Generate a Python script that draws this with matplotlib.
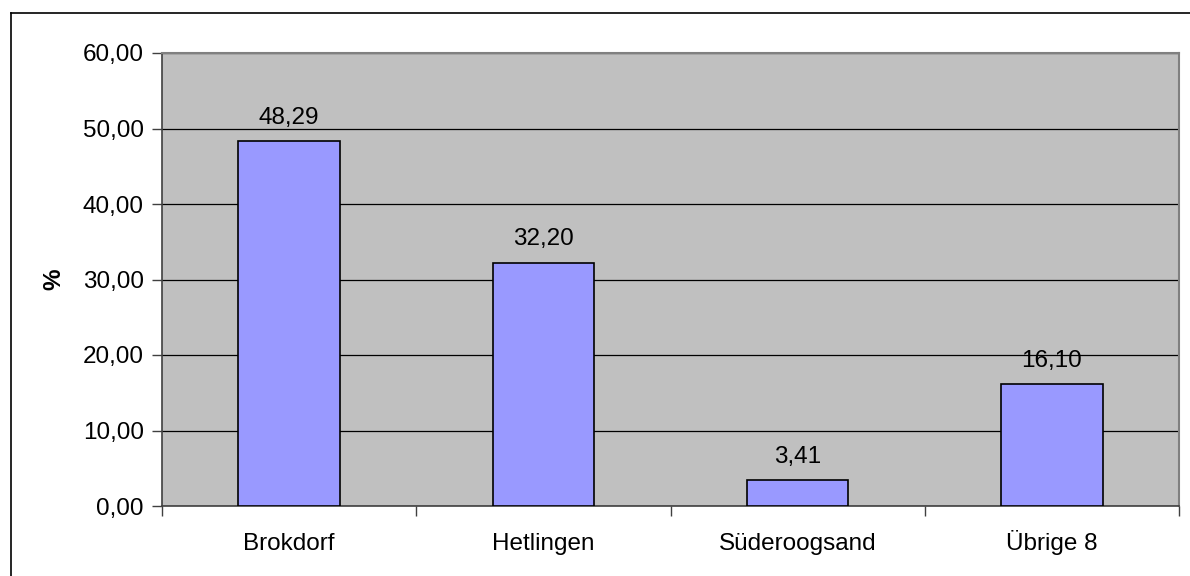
import numpy as np
import matplotlib
matplotlib.use('Agg')
import matplotlib.pyplot as plt
from matplotlib.lines import Line2D

categories = ['Brokdorf', 'Hetlingen', 'Süderoogsand', 'Übrige 8']
values = [48.29, 32.20, 3.41, 16.10]
yticks = [0, 10, 20, 30, 40, 50, 60]

plt.rcParams['font.family'] = ['Liberation Sans', 'DejaVu Sans']
fs = 17.5

W, H = 1190, 576
fig = plt.figure(figsize=(W / 100, H / 100), dpi=100)

# outer chart border: only left and top edges are in the picture
bx, by = 10.5 / W, 1 - 12.5 / H
fig.lines.append(Line2D([bx, bx], [-0.1, by], transform=fig.transFigure, color='black', linewidth=1.2))
fig.lines.append(Line2D([bx, 1.1], [by, by], transform=fig.transFigure, color='black', linewidth=1.2))

ax = fig.add_axes([162 / W, 1 - 506 / H, (1179 - 162) / W, (506 - 53) / H])
ax.set_facecolor('#C0C0C0')

x = np.arange(len(categories))
ax.bar(x, values, width=0.4, color='#9999FF', edgecolor='black', linewidth=1.2, zorder=3)

for xi, v in zip(x, values):
    ax.annotate(('%.2f' % v).replace('.', ','), (xi, v), xytext=(0, 9),
                textcoords='offset points', ha='center', va='bottom', fontsize=fs)

ax.set_xlim(-0.5, len(categories) - 0.5)
ax.set_ylim(0, 60)
ax.set_yticks(yticks)
ax.set_yticklabels([('%.2f' % t).replace('.', ',') for t in yticks], fontsize=fs)
ax.yaxis.grid(True, color='black', linewidth=0.9, zorder=1)
ax.set_axisbelow(True)

ax.set_xticks(x)
ax.set_xticklabels(categories, fontsize=fs)
for lbl in ax.get_xticklabels():
    lbl.set_verticalalignment('baseline')
ax.tick_params(axis='x', length=0, pad=31.5)
ax.set_xticks(np.arange(-0.5, len(categories)), minor=True)
ax.tick_params(axis='x', which='minor', length=7, color='#404040', width=1)
ax.tick_params(axis='y', length=7, color='#404040', width=1, pad=6)

ax.set_ylabel('%', fontsize=fs, fontweight='bold', labelpad=13)

for s in ['left', 'bottom']:
    ax.spines[s].set_color('#404040')
    ax.spines[s].set_linewidth(1.2)
for s in ['top', 'right']:
    ax.spines[s].set_color('#808080')
    ax.spines[s].set_linewidth(1.5)

fig.savefig('out.png', dpi=100)
